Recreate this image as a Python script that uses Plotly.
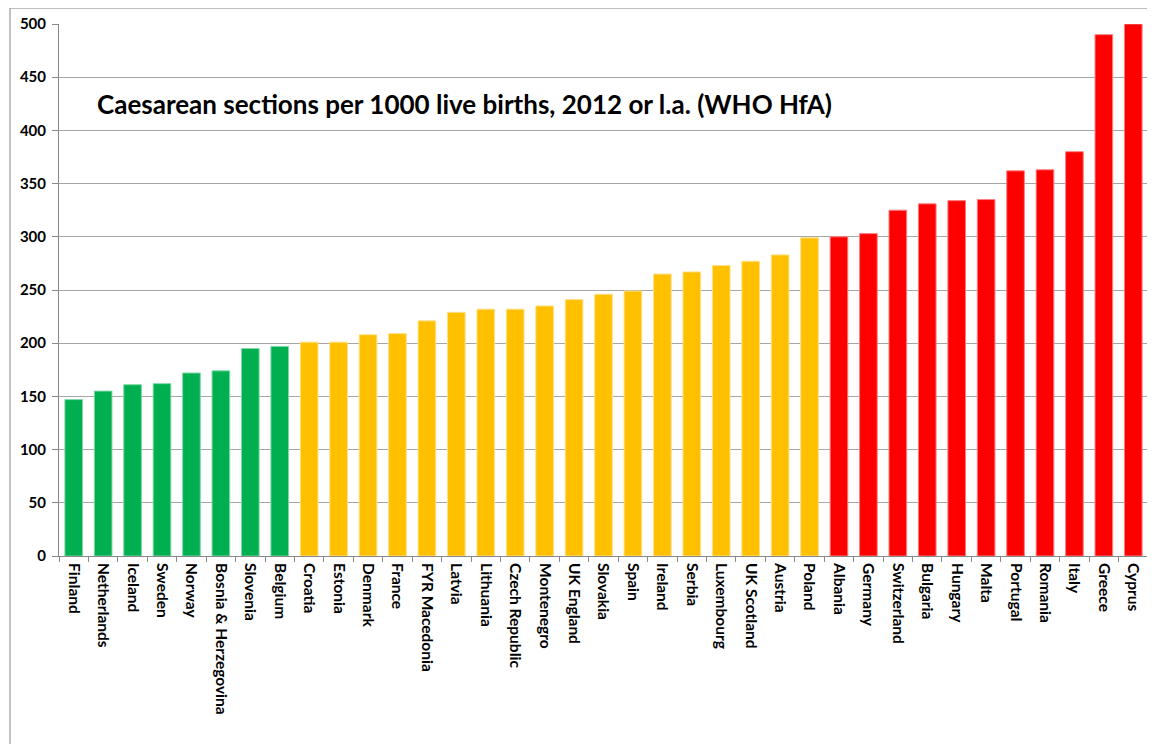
import plotly.graph_objects as go

countries = ["Finland", "Netherlands", "Iceland", "Sweden", "Norway", "Bosnia & Herzegovina",
             "Slovenia", "Belgium", "Croatia", "Estonia", "Denmark", "France", "FYR Macedonia",
             "Latvia", "Lithuania", "Czech Republic", "Montenegro", "UK England", "Slovakia",
             "Spain", "Ireland", "Serbia", "Luxembourg", "UK Scotland", "Austria", "Poland",
             "Albania", "Germany", "Switzerland", "Bulgaria", "Hungary", "Malta", "Portugal",
             "Romania", "Italy", "Greece", "Cyprus"]
values = [147, 155, 161, 162, 172, 174, 195, 197, 201, 201, 208, 209, 221, 229, 232, 232, 235,
          241, 246, 249, 265, 267, 273, 277, 283, 299, 300, 303, 325, 331, 334, 335, 362, 363,
          380, 490, 500]
groups = ["low"] * 8 + ["mid"] * 18 + ["high"] * 11
group_colors = {"low": "#00B050", "mid": "#FFC000", "high": "#FF0000"}
group_lines = {"low": "#7fd8a8", "mid": "#ffe08a", "high": "#ff8080"}
y_ticks = [0, 50, 100, 150, 200, 250, 300, 350, 400, 450, 500]
title_text = "Caesarean sections per 1000 live births, 2012 or l.a. (WHO HfA)"

fig = go.Figure(go.Bar(
    x=countries, y=values, width=0.6,
    marker=dict(color=[group_colors[g] for g in groups],
                line=dict(color=[group_lines[g] for g in groups], width=1)),
))

font_family = "Lato, 'Open Sans', sans-serif"
fig.update_layout(
    width=1155, height=744,
    margin=dict(l=51, r=15, t=16, b=196),
    paper_bgcolor="white", plot_bgcolor="white",
    showlegend=False, bargap=0.4,
    font=dict(family=font_family, color="black"),
    xaxis=dict(
        type="category", tickangle=90, ticks="outside", ticklen=5, tickcolor="#888888",
        tickson="boundaries", showline=True, linecolor="#888888", linewidth=1,
        showgrid=False, tickfont=dict(size=15.5, family=font_family, weight="bold"),
        automargin=False, ticklabelstandoff=3,
    ),
    yaxis=dict(
        range=[0, 500], tickvals=y_ticks, ticks="outside", ticklen=6, tickcolor="#888888",
        showline=True, linecolor="#888888", linewidth=1, showgrid=True,
        gridcolor="#a6a6a6", gridwidth=1, zeroline=False, automargin=False,
        tickfont=dict(size=15, family=font_family, weight="bold"), ticklabelstandoff=3,
    ),
    annotations=[dict(
        text=title_text, xref="paper", yref="paper", x=0.033, y=0.85,
        xanchor="left", yanchor="middle", showarrow=False,
        font=dict(size=26, family=font_family, color="black", weight="bold"),
    )],
    shapes=[dict(type="rect", xref="paper", yref="paper",
                 x0=-0.045, x1=1.03, y0=-0.4, y1=1.030,
                 line=dict(color="#868686", width=1), layer="below")],
)

fig.write_html("out.html")
